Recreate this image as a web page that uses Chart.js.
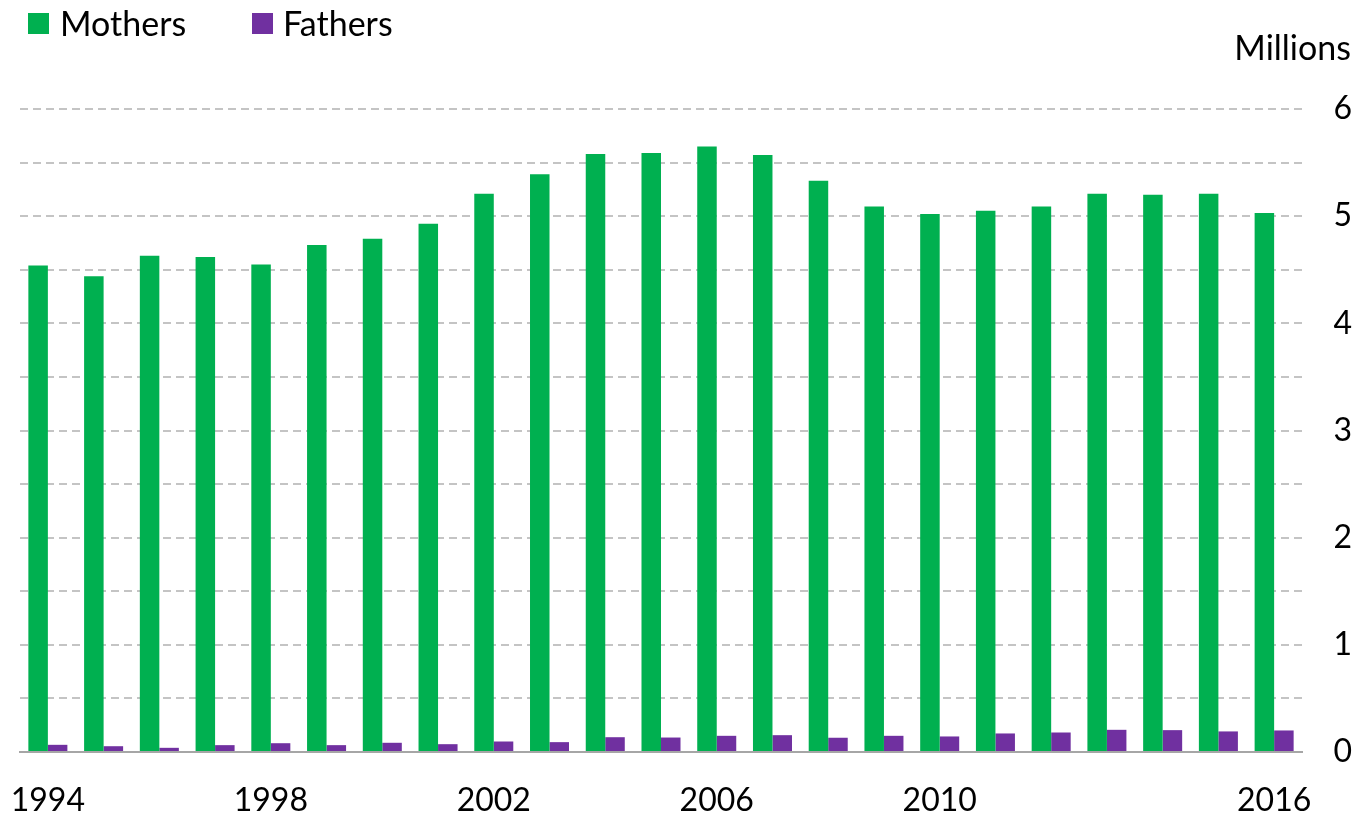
<!DOCTYPE html>
<html>
<head>
<meta charset="utf-8">
<script src="https://cdn.jsdelivr.net/npm/chart.js@4/dist/chart.umd.min.js"></script>
<style>
  html, body { margin: 0; padding: 0; background: #fff; }
  #wrap { position: relative; width: 1355px; height: 817px; overflow: hidden; }
  canvas { position: absolute; left: 0; top: 0; }
  .lg { position: absolute; top: 3px; font-family: Lato, sans-serif; font-size: 34px; color: #000; line-height: 40px; white-space: nowrap; }
  .lg span.box { position: absolute; top: 10px; width: 21px; height: 21px; }
  #unit { position: absolute; right: 4px; top: 27px; font-family: Lato, sans-serif; font-size: 34px; line-height: 40px; color: #000; }
</style>
</head>
<body>
<div id="wrap">
  <canvas id="c" width="1355" height="817"></canvas>
  <div class="lg" id="lg1" style="left:28px;"><span class="box" style="left:0;background:#00B050"></span><span style="margin-left:32px">Mothers</span></div>
  <div class="lg" id="lg2" style="left:252px;"><span class="box" style="left:0;background:#7030A0"></span><span style="margin-left:31px">Fathers</span></div>
  <div id="unit">Millions</div>
</div>
<script>
const years = ['1994','1995','1996','1997','1998','1999','2000','2001','2002','2003','2004','2005','2006','2007','2008','2009','2010','2011','2012','2013','2014','2015','2016'];
const mothers = [4.54,4.44,4.63,4.62,4.55,4.73,4.79,4.93,5.21,5.39,5.58,5.59,5.65,5.57,5.33,5.09,5.02,5.05,5.09,5.21,5.20,5.21,5.03];
const fathers = [0.067,0.054,0.039,0.064,0.082,0.064,0.086,0.073,0.098,0.092,0.138,0.135,0.151,0.157,0.133,0.151,0.145,0.173,0.182,0.207,0.204,0.192,0.201];
const shownYearLabels = ['1994','1998','2002','2006','2010','2016'];
const seriesNames = ['Mothers','Fathers'];
const seriesColors = ['#00B050','#7030A0'];

const tickFont = { family: 'Lato, sans-serif', size: 32 };

new Chart(document.getElementById('c'), {
  type: 'bar',
  data: {
    labels: years,
    datasets: [
      { label: seriesNames[0], data: mothers, backgroundColor: seriesColors[0], categoryPercentage: 0.7, barPercentage: 1.0 },
      { label: seriesNames[1], data: fathers, backgroundColor: seriesColors[1], categoryPercentage: 0.7, barPercentage: 1.0 }
    ]
  },
  options: {
    responsive: false,
    animation: false,
    layout: { padding: { left: 20, right: 3, top: 109, bottom: 0 } },
    plugins: { legend: { display: false }, tooltip: { enabled: false } },
    scales: {
      x: {
        grid: { display: false, drawTicks: false },
        border: { display: true, color: '#a6a6a6', width: 2 },
        ticks: {
          autoSkip: false, maxRotation: 0, minRotation: 0, padding: 29,
          color: '#000', font: tickFont,
          callback: function(v, i) { const l = years[i]; return shownYearLabels.includes(l) ? l : ''; }
        },
        afterFit: (s) => { s.paddingLeft = 0; s.paddingRight = 0; s.height = 65; }
      },
      y: {
        position: 'right',
        min: 0, max: 6,
        grid: {
          drawTicks: false, lineWidth: 2,
          color: (ctx) => ctx.tick && ctx.tick.value === 0 ? 'rgba(0,0,0,0)' : '#c4c4c4'
        },
        border: { display: false, dash: [8, 5] },
        ticks: {
          stepSize: 0.5, padding: 30, color: '#000', font: tickFont, crossAlign: 'far',
          callback: (v) => (Math.abs(v % 1) < 1e-9 ? String(v) : '')
        },
        afterFit: (s) => { s.width = 50; s.paddingTop = 0; s.paddingBottom = 0; }
      }
    }
  }
});
</script>
</body>
</html>
